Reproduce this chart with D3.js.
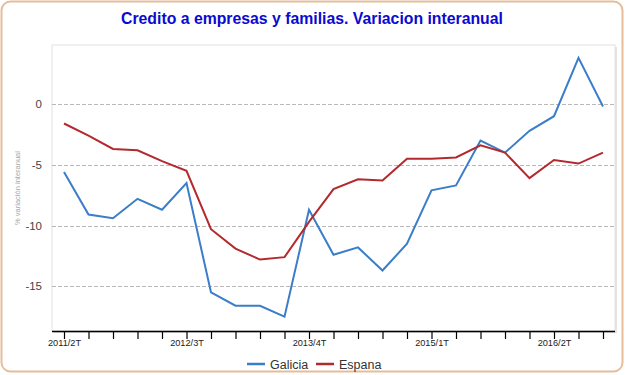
<!DOCTYPE html>
<html><head><meta charset="utf-8">
<script src="https://cdn.jsdelivr.net/npm/d3@7"></script>
<style>body{margin:0;background:#fff}svg{display:block}</style>
</head><body>
<svg id="c" width="625" height="375"></svg>
<script>
const quarters = ["2011/2T","2011/3T","2011/4T","2012/1T","2012/2T","2012/3T","2012/4T","2013/1T","2013/2T","2013/3T","2013/4T","2014/1T","2014/2T","2014/3T","2014/4T","2015/1T","2015/2T","2015/3T","2015/4T","2016/1T","2016/2T","2016/3T","2016/4T"];
const tickLabels = ["2011/2T","2012/3T","2013/4T","2015/1T","2016/2T"];
const galicia = [-5.6,-9.1,-9.4,-7.8,-8.7,-6.5,-15.5,-16.6,-16.6,-17.5,-8.7,-12.4,-11.8,-13.7,-11.5,-7.1,-6.7,-3.0,-4.0,-2.2,-1.0,3.8,-0.2];
const espana = [-1.6,-2.6,-3.7,-3.8,-4.7,-5.5,-10.3,-11.9,-12.8,-12.6,-9.7,-7.0,-6.2,-6.3,-4.5,-4.5,-4.4,-3.4,-4.0,-6.1,-4.6,-4.9,-4.0];
const yTicks = [0,-5,-10,-15];
const seriesNames = ["Galicia","Espana"];
const seriesColors = ["#3b7dc8","#b22a2e"];

const svg = d3.select("#c");
const font = "Liberation Sans, Arial, sans-serif";
svg.append("rect").attr("x",1.5).attr("y",1.5).attr("width",621).attr("height",370).attr("rx",9)
  .attr("fill","#fff").attr("stroke","#e6bd99").attr("stroke-width",2);

svg.append("text").attr("x",312).attr("y",24).attr("text-anchor","middle")
  .attr("font-family",font).attr("font-weight","bold").attr("font-size",15.8).attr("fill","#0a0ad0")
  .text("Credito a empresas y familias. Variacion interanual");

const L=52,R=615,T=45,B=331;
const x = d3.scalePoint().domain(quarters).range([64,603]);
const y = d3.scaleLinear().domain([-18.68,4.86]).range([B,T]);

// frame shadow + frame
svg.append("rect").attr("x",L+2).attr("y",T+2).attr("width",R-L).attr("height",B-T).attr("fill","#e4e4e4");
svg.append("rect").attr("x",L).attr("y",T).attr("width",R-L).attr("height",B-T)
  .attr("fill","#fff").attr("stroke","#e2e2e2").attr("stroke-width",1);

// grid
svg.append("g").selectAll("line").data(yTicks).join("line")
  .attr("x1",L).attr("x2",R).attr("y1",d=>Math.round(y(d))+0.5).attr("y2",d=>Math.round(y(d))+0.5)
  .attr("stroke","#b8b8b8").attr("stroke-dasharray","4,2");

// y labels
svg.append("g").selectAll("text").data(yTicks).join("text")
  .attr("x",42).attr("y",d=>y(d)+4).attr("text-anchor","end")
  .attr("font-family",font).attr("font-size",11.5).attr("fill","#444").text(d=>d);

svg.append("text").attr("transform","translate(20,188) rotate(-90)").attr("text-anchor","middle")
  .attr("font-family",font).attr("font-size",7.5).attr("fill","#a8a8a8").text("% variación interanual");

// x axis
const xAxis = d3.axisBottom(x).tickSize(8).tickSizeOuter(0)
  .tickFormat(d=>tickLabels.includes(d)?d:"");
const gx = svg.append("g").attr("transform",`translate(0,${B})`).call(xAxis);
gx.select(".domain").attr("d",`M${L},0.5H${R}`).attr("stroke","#000").attr("stroke-width",1.5);
gx.selectAll(".tick line").attr("stroke","#000").attr("stroke-width",1.2);
gx.selectAll(".tick text").attr("font-family",font).attr("font-size",9.2).attr("fill","#222").attr("dy","0.45em");

// lines
const line = d3.line().x((d,i)=>x(quarters[i])).y(d=>y(d));
[galicia,espana].forEach((s,k)=>{
  svg.append("path").datum(s).attr("d",line).attr("fill","none")
    .attr("stroke",seriesColors[k]).attr("stroke-width",2).attr("stroke-linejoin","miter");
});

// legend
const lg = svg.append("g");
const lx=[247,316];
seriesNames.forEach((n,k)=>{
  lg.append("line").attr("x1",lx[k]).attr("x2",lx[k]+18).attr("y1",364).attr("y2",364)
    .attr("stroke",seriesColors[k]).attr("stroke-width",2.5);
  lg.append("text").attr("x",lx[k]+23).attr("y",368.5).attr("font-family",font).attr("font-size",12.5)
    .attr("fill","#333").text(n);
});
</script>
</body></html>
